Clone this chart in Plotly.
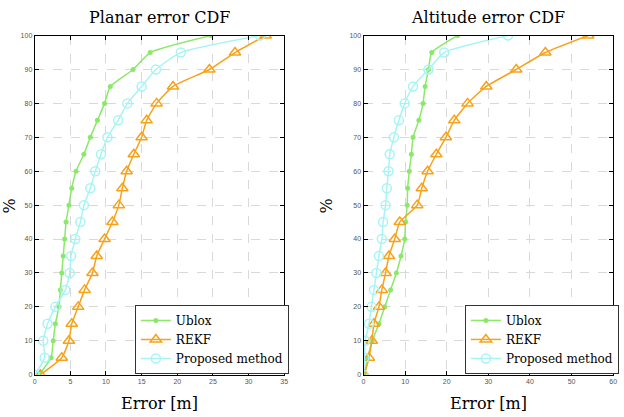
import plotly.graph_objects as go

pct = [0, 5, 10, 15, 20, 25, 30, 35, 40, 45, 50, 55, 60, 65, 70, 75, 80, 85, 90, 95, 100]

planar_ublox = [0.6, 2.3, 2.6, 2.9, 3.4, 3.6, 3.8, 4.0, 4.2, 4.4, 4.8, 5.2, 5.8, 6.9, 7.8, 8.8, 9.8, 10.6, 13.8, 16.2, 24.7]
planar_rekf = [0.8, 3.8, 4.8, 5.2, 6.1, 7.0, 8.1, 8.7, 9.8, 10.9, 11.8, 12.3, 12.9, 13.9, 15.0, 15.7, 17.1, 19.4, 24.5, 28.1, 32.4]
planar_prop = [0.0, 1.4, 1.2, 1.8, 2.9, 4.3, 4.9, 5.1, 5.7, 6.4, 6.9, 7.8, 8.5, 9.3, 10.2, 11.7, 13.0, 15.0, 17.0, 20.5, 31.6]

alt_ublox = [0.2, 1.0, 2.1, 3.7, 5.1, 6.5, 7.9, 9.0, 9.9, 10.1, 10.5, 10.6, 11.0, 11.5, 11.9, 13.3, 14.3, 14.8, 15.6, 16.4, 22.6]
alt_rekf = [0.2, 1.3, 2.0, 2.5, 3.7, 4.4, 5.3, 6.1, 7.5, 8.7, 12.9, 14.0, 15.4, 17.5, 19.8, 21.8, 25.0, 29.5, 36.7, 43.7, 54.0]
alt_prop = [0.0, 0.2, 0.4, 1.3, 1.9, 2.5, 3.1, 3.7, 4.4, 4.7, 5.3, 5.6, 6.0, 6.3, 7.3, 8.5, 9.9, 11.9, 15.6, 19.4, 34.7]

names = ["Ublox", "REKF", "Proposed method"]
titles = ["Planar error CDF", "Altitude error CDF"]

GREEN = "#8ce86a"
ORANGE = "#f7a21b"
CYAN = "#a8f4f4"
SERIF = "DejaVu Serif, serif"

fig = go.Figure()

styles = [
    dict(color=GREEN, marker=dict(symbol="circle", size=5, color=GREEN)),
    dict(color=ORANGE, marker=dict(symbol="triangle-up-open", size=10, color=ORANGE, line=dict(width=1.5))),
    dict(color=CYAN, marker=dict(symbol="circle-open", size=9, color=CYAN, line=dict(width=1.5))),
]

for i, (data, xa, ya, lg) in enumerate([
    ([planar_ublox, planar_rekf, planar_prop], "x", "y", "legend"),
    ([alt_ublox, alt_rekf, alt_prop], "x2", "y2", "legend2"),
]):
    for j in range(3):
        st = styles[j]
        fig.add_trace(go.Scatter(
            x=data[j], y=pct, mode="lines+markers", name=names[j],
            line=dict(color=st["color"], width=1.5, shape="spline", smoothing=0.5),
            marker=st["marker"], xaxis=xa, yaxis=ya, legend=lg,
        ))

axis_common = dict(
    showline=True, linecolor="black", linewidth=1, mirror="ticks",
    ticks="inside", ticklen=4, tickcolor="black",
    showgrid=True, gridcolor="#d9d9d9", griddash="dash", gridwidth=1,
    zeroline=False, tickfont=dict(size=7, color="#555", family="Arial"),
)

legend_common = dict(
    xanchor="left", yanchor="top", bgcolor="white", bordercolor="#333", borderwidth=1,
    font=dict(family=SERIF, size=12, color="black"), tracegroupgap=0, itemwidth=30,
)

fig.update_layout(
    width=624, height=417,
    margin=dict(l=0, r=0, t=0, b=0),
    paper_bgcolor="white", plot_bgcolor="white",
    xaxis=dict(domain=[0.0529, 0.4567], range=[0, 35], dtick=5, anchor="y", **axis_common),
    yaxis=dict(domain=[0.0959, 0.923], range=[0, 100], dtick=10, anchor="x", **axis_common),
    xaxis2=dict(domain=[0.585, 0.989], range=[0, 60], dtick=10, anchor="y2", **axis_common),
    yaxis2=dict(domain=[0.0959, 0.923], range=[0, 100], dtick=10, anchor="x2", **axis_common),
    legend=dict(x=0.215, y=0.266, **legend_common),
    legend2=dict(x=0.749, y=0.266, **legend_common),
    showlegend=True,
)

for text, xc in [(titles[0], 159 / 624), (titles[1], 491 / 624)]:
    fig.add_annotation(text=text, x=xc, y=1 - 14 / 417, xref="paper", yref="paper",
                       showarrow=False, font=dict(family=SERIF, size=16, color="black"),
                       xanchor="center", yanchor="middle")
for xc in [159 / 624, 491 / 624]:
    fig.add_annotation(text="Error [m]", x=xc, y=1 - 406 / 417, xref="paper", yref="paper",
                       showarrow=False, font=dict(family=SERIF, size=16, color="black"),
                       xanchor="center", yanchor="middle")
for xc in [8 / 624, 328 / 624]:
    fig.add_annotation(text="%", x=xc, y=1 - 205 / 417, xref="paper", yref="paper",
                       showarrow=False, textangle=-90,
                       font=dict(family=SERIF, size=16, color="black"),
                       xanchor="center", yanchor="middle")

fig.write_html("out.html")
